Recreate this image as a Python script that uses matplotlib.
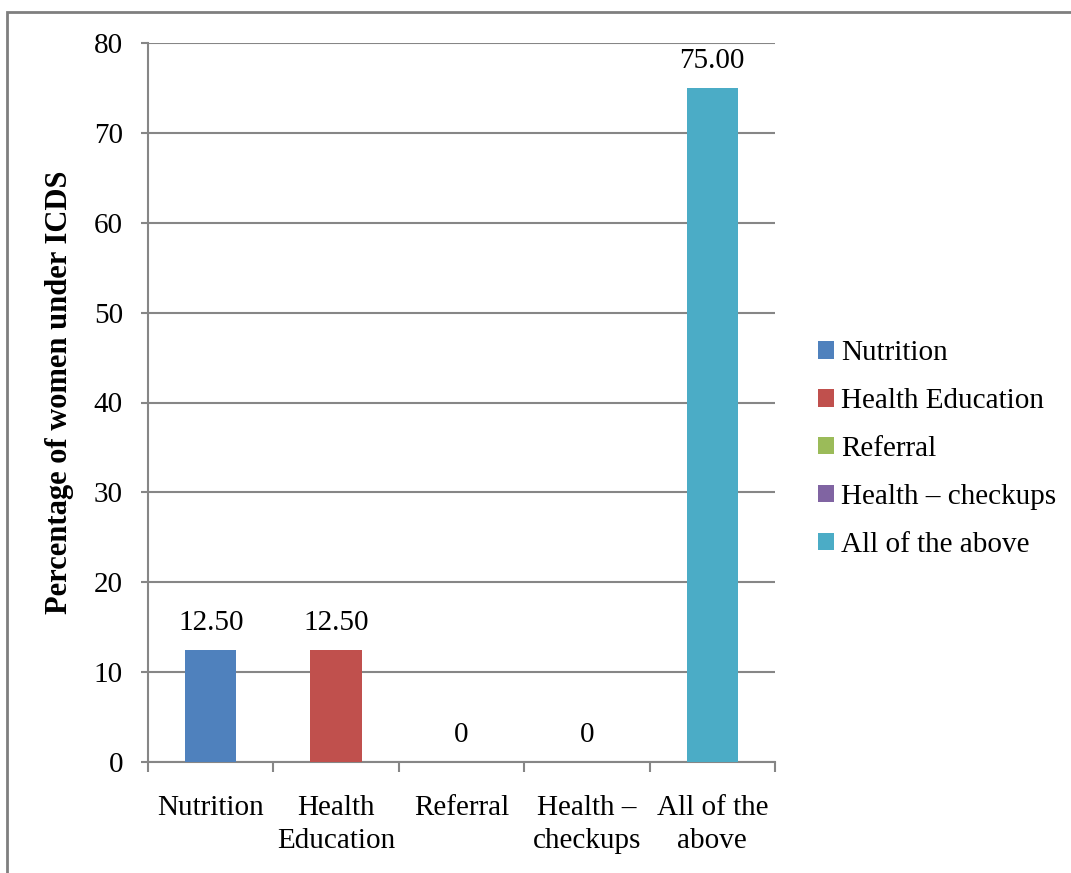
import matplotlib
matplotlib.use("Agg")
import matplotlib.pyplot as plt
from matplotlib.patches import Rectangle, Patch

categories = ["Nutrition", "Health\nEducation", "Referral", "Health \u2013\ncheckups", "All of the\nabove"]
legend_names = ["Nutrition", "Health Education", "Referral", "Health \u2013 checkups", "All of the above"]
values = [12.5, 12.5, 0, 0, 75.0]
value_labels = ["12.50", "12.50", "0", "0", "75.00"]
colors = ["#4F81BD", "#C0504D", "#9BBB59", "#8064A2", "#4BACC6"]
y_ticks = [0, 10, 20, 30, 40, 50, 60, 70, 80]

plt.rcParams["font.family"] = ["Liberation Serif", "DejaVu Serif"]

W, H = 1071, 873
fig = plt.figure(figsize=(W / 100, H / 100), dpi=100)
ax = fig.add_axes([148 / W, 1 - 762 / H, (775 - 148) / W, (762 - 43) / H])

grid_c = "#868686"
fs = 21
x = list(range(len(categories)))
ax.bar(x, values, width=0.41, color=colors, zorder=3)

for xi, v, lab in zip(x, values, value_labels):
    ax.annotate(lab, (xi, v), xytext=(0, 10), textcoords="offset points",
                ha="center", va="bottom", fontsize=fs, color="black")

ax.set_xlim(-0.5, len(categories) - 0.5)
ax.set_ylim(0, 80)
ax.set_yticks(y_ticks)
ax.set_yticklabels([str(t) for t in y_ticks], fontsize=fs)
ax.yaxis.grid(True, color=grid_c, linewidth=1.5, zorder=0)
ax.tick_params(axis="y", length=5, width=1.5, color=grid_c, pad=13)

ax.set_xticks([i - 0.5 for i in range(len(categories) + 1)])
ax.set_xticklabels([])
ax.set_xticks(x, minor=True)
ax.set_xticklabels(categories, minor=True, fontsize=fs, linespacing=1.33)
ax.tick_params(axis="x", which="major", length=7, width=1.5, color=grid_c, direction="out")
ax.tick_params(axis="x", which="minor", length=0, pad=24)

for side in ["top", "right"]:
    ax.spines[side].set_visible(False)
for side in ["left", "bottom"]:
    ax.spines[side].set_color(grid_c)
    ax.spines[side].set_linewidth(1.5)

ax.set_ylabel("Percentage of women under ICDS", fontsize=22, fontweight="bold")
ax.yaxis.label.set_va("center")
ax.yaxis.set_label_coords((60 - 148) / 627, (762 - 392) / 719)

handles = [Patch(facecolor=c, edgecolor="none") for c in colors]
fig.legend(handles, legend_names, loc="center left", bbox_to_anchor=(806 / W, 1 - 449 / H),
           frameon=False, fontsize=fs, handlelength=0.55, handleheight=0.55,
           handletextpad=0.25, labelspacing=0.75, borderaxespad=0)

fig.patches.append(Rectangle((7 / W, -0.1), 1.2, 1 - 12 / H + 0.1, transform=fig.transFigure,
                             fill=False, edgecolor="#7f7f7f", linewidth=2, clip_on=False))

fig.savefig("out.png", dpi=100)
